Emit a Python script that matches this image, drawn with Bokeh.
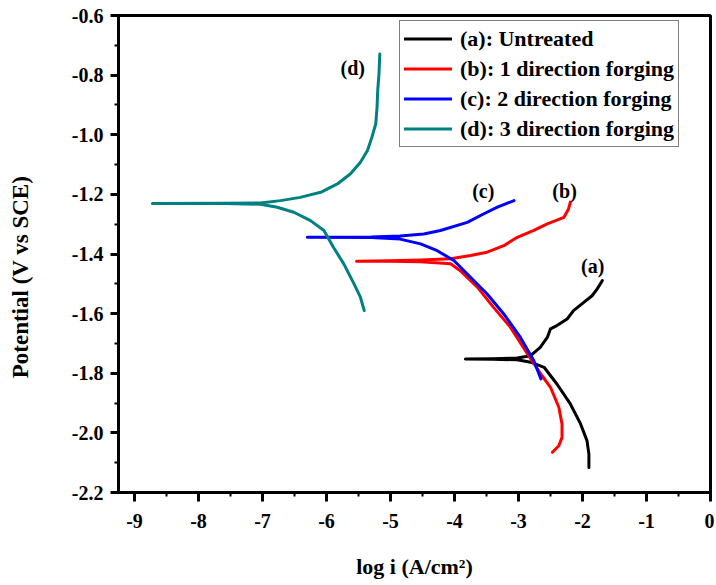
from bokeh.plotting import figure
from bokeh.models import (Range1d, SingleIntervalTicker, PrintfTickFormatter,
                          Legend, LegendItem, ColumnDataSource)
from bokeh.core.properties import value
from bokeh.embed import file_html
from bokeh.resources import INLINE

# ---- data ----
# (a) Untreated : cathodic end -> Ecorr tip -> anodic end
a_logi = [-1.90, -1.90, -1.93, -2.03, -2.19, -2.40, -2.60, -2.81, -3.02, -3.40, -3.83,
          -3.40, -3.02, -2.81, -2.66, -2.55, -2.50, -2.40, -2.24, -2.14, -1.98, -1.85, -1.77, -1.72, -1.69]
a_E = [-2.116, -2.071, -2.026, -1.970, -1.903, -1.836, -1.780, -1.763, -1.755, -1.753, -1.752,
       -1.751, -1.749, -1.741, -1.713, -1.680, -1.651, -1.640, -1.618, -1.590, -1.562, -1.540, -1.517, -1.500, -1.489]

# (b) 1 direction forging
b_logi = [-2.47, -2.37, -2.32, -2.32, -2.37, -2.50, -2.66, -2.86, -3.125, -3.39, -3.64, -3.91, -4.06, -4.53, -5.00, -5.53,
          -5.00, -4.53, -4.06, -3.75, -3.49, -3.23, -3.02, -2.76, -2.55, -2.29, -2.22, -2.19]
b_E = [-2.065, -2.043, -2.015, -1.970, -1.914, -1.847, -1.800, -1.735, -1.646, -1.579, -1.512, -1.456, -1.433, -1.426, -1.424, -1.424,
       -1.423, -1.420, -1.416, -1.405, -1.394, -1.372, -1.344, -1.321, -1.299, -1.277, -1.250, -1.226]

# (c) 2 direction forging
c_logi = [-2.65, -2.76, -2.97, -3.23, -3.49, -3.75, -4.01, -4.27, -4.53, -4.85, -5.30, -6.30,
          -5.30, -4.85, -4.48, -4.22, -3.80, -3.54, -3.33, -3.07]
c_E = [-1.819, -1.758, -1.680, -1.601, -1.534, -1.478, -1.422, -1.389, -1.366, -1.350, -1.345, -1.344,
       -1.343, -1.340, -1.333, -1.321, -1.294, -1.265, -1.243, -1.221]

# (d) 3 direction forging
d_logi = [-5.41, -5.47, -5.57, -5.73, -5.89, -6.04, -6.25, -6.51, -6.77, -7.03, -7.60, -8.72,
          -7.60, -7.03, -6.72, -6.41, -6.09, -5.83, -5.625, -5.47, -5.36, -5.29, -5.23, -5.21, -5.20, -5.18, -5.167]
d_E = [-1.590, -1.545, -1.500, -1.433, -1.378, -1.321, -1.288, -1.260, -1.243, -1.233, -1.231, -1.231,
       -1.230, -1.229, -1.221, -1.210, -1.193, -1.165, -1.131, -1.092, -1.053, -1.008, -0.963, -0.908, -0.852, -0.796, -0.729]

series_names = ["(a): Untreated", "(b): 1 direction forging",
                "(c): 2 direction forging", "(d): 3 direction forging"]
series_colors = ["#000000", "#FF0000", "#0000FF", "#008080"]

label_x = [-1.84, -2.28, -3.55, -5.59]
label_y = [-1.439, -1.19, -1.19, -0.775]
label_text = ["(a)", "(b)", "(c)", "(d)"]

FONT = "Liberation Serif"

p = figure(frame_width=592, frame_height=477,
           x_range=Range1d(-9.25, 0), y_range=Range1d(-2.2, -0.6),
           output_backend="svg", toolbar_location=None,
           min_border_left=118, min_border_right=4,
           min_border_top=15, min_border_bottom=85,
           background_fill_color="white", border_fill_color="white")

p.grid.visible = False
p.outline_line_color = "black"
p.outline_line_width = 3

renderers = []
for xs, ys, c in [(a_logi, a_E, series_colors[0]), (b_logi, b_E, series_colors[1]),
                  (c_logi, c_E, series_colors[2]), (d_logi, d_E, series_colors[3])]:
    r = p.line(xs, ys, line_color=c, line_width=3, line_join="round", line_cap="round")
    renderers.append(r)

src = ColumnDataSource(dict(x=label_x, y=label_y, t=label_text))
p.text(x="x", y="y", text="t", source=src, text_font=value(FONT),
       text_font_style="bold", text_font_size="20px", text_align="center",
       text_baseline="middle", text_color="black")

# axes
xa = p.xaxis[0]
xa.ticker = SingleIntervalTicker(interval=1, num_minor_ticks=2)
xa.formatter = PrintfTickFormatter(format="%d")
ya = p.yaxis[0]
ya.ticker = SingleIntervalTicker(interval=0.2, num_minor_ticks=2)
ya.formatter = PrintfTickFormatter(format="%.1f")

for ax in (xa, ya):
    ax.axis_line_width = 3
    ax.axis_line_color = "black"
    ax.major_tick_line_width = 3
    ax.minor_tick_line_width = 2
    ax.major_tick_in = 0
    ax.minor_tick_in = 0
    ax.major_tick_out = 8
    ax.minor_tick_out = 4
    ax.major_label_text_font = FONT
    ax.major_label_text_font_style = "bold"
    ax.major_label_text_font_size = "20px"
    ax.major_label_text_color = "black"
    ax.axis_label_text_font = FONT
    ax.axis_label_text_font_style = "bold"
    ax.axis_label_text_color = "black"

xa.major_tick_out = 9
xa.major_label_standoff = 12
xa.axis_label = "log i (A/cm\u00b2)"
xa.axis_label_text_font_size = "22px"
xa.axis_label_standoff = 23

ya.major_label_standoff = 7
ya.axis_label = "Potential (V vs SCE)" + "\u00a0" * 8
ya.axis_label_text_font_size = "23px"
ya.axis_label_standoff = 36

legend = Legend(items=[LegendItem(label=n, renderers=[r]) for n, r in zip(series_names, renderers)],
                location=(281, 345), margin=0, padding=4, spacing=3,
                glyph_width=48, glyph_height=27, label_height=27, label_standoff=8,
                label_text_font=FONT, label_text_font_style="bold",
                label_text_font_size="22px", label_text_color="black",
                border_line_color="black", border_line_width=1,
                background_fill_color="white", background_fill_alpha=1.0)
p.add_layout(legend, "center")

open("out.html", "w").write(file_html(p, INLINE))
